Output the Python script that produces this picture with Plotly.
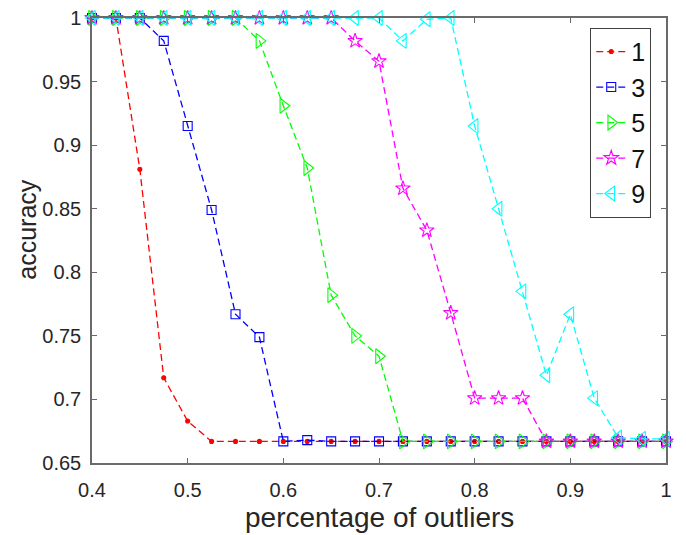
import plotly.graph_objects as go

# Fraction of outliers on the x axis
outlier_pct = [0.4, 0.425, 0.45, 0.475, 0.5, 0.525, 0.55, 0.575, 0.6, 0.625,
               0.65, 0.675, 0.7, 0.725, 0.75, 0.775, 0.8, 0.825, 0.85, 0.875,
               0.9, 0.925, 0.95, 0.975, 1.0]

# Accuracy for each setting (legend labels 1, 3, 5, 7, 9)
acc_1 = [1, 1, 0.881, 0.717, 0.683, 0.667, 0.667, 0.667, 0.667, 0.667,
         0.667, 0.667, 0.667, 0.667, 0.667, 0.667, 0.667, 0.667, 0.667, 0.667,
         0.667, 0.667, 0.667, 0.667, 0.667]
acc_3 = [1, 1, 1, 0.982, 0.915, 0.849, 0.767, 0.749, 0.667, 0.668,
         0.667, 0.667, 0.667, 0.667, 0.667, 0.667, 0.667, 0.667, 0.667, 0.667,
         0.667, 0.667, 0.667, 0.667, 0.667]
acc_5 = [1, 1, 1, 1, 1, 1, 1, 0.982, 0.931, 0.882,
         0.782, 0.750, 0.734, 0.667, 0.667, 0.667, 0.667, 0.667, 0.667, 0.667,
         0.667, 0.667, 0.667, 0.667, 0.667]
acc_7 = [1, 1, 1, 1, 1, 1, 1, 1, 1, 1,
         1, 0.982, 0.966, 0.866, 0.833, 0.768, 0.701, 0.701, 0.701, 0.667,
         0.667, 0.667, 0.667, 0.667, 0.667]
acc_9 = [1, 1, 1, 1, 1, 1, 1, 1, 1, 1,
         1, 1, 1, 0.982, 0.999, 1, 0.915, 0.850, 0.785, 0.719,
         0.767, 0.701, 0.670, 0.669, 0.669]

series_names = ["1", "3", "5", "7", "9"]
series_values = [acc_1, acc_3, acc_5, acc_7, acc_9]
series_colors = ["#ff0000", "#0000ff", "#00ff00", "#ff00ff", "#00ffff"]
series_symbols = ["circle", "square-open", "triangle-right-open",
                  "star-open", "triangle-left-open"]
series_sizes = [4, 9, 13, 11, 13]

x_ticks = [0.4, 0.5, 0.6, 0.7, 0.8, 0.9, 1]
x_tick_text = ["0.4", "0.5", "0.6", "0.7", "0.8", "0.9", "1"]
y_ticks = [0.65, 0.7, 0.75, 0.8, 0.85, 0.9, 0.95, 1]
y_tick_text = ["0.65", "0.7", "0.75", "0.8", "0.85", "0.9", "0.95", "1"]

FONT = "Liberation Sans, Arial, sans-serif"
AXIS_COLOR = "#6a6a6a"
TEXT_COLOR = "#262626"

fig = go.Figure()
for name, vals, color, sym, size in zip(series_names, series_values,
                                        series_colors, series_symbols,
                                        series_sizes):
    fig.add_trace(go.Scatter(
        x=outlier_pct, y=vals, name=name, mode="lines+markers",
        line=dict(color=color, width=1.3, dash="7px,4px"),
        marker=dict(symbol=sym, size=size, color=color,
                    line=dict(color=color, width=1.1)),
        cliponaxis=False,
    ))

axis_common = dict(
    showgrid=False, zeroline=False, showline=True, linecolor=AXIS_COLOR,
    linewidth=1.5, mirror="ticks", ticks="inside", ticklen=5,
    tickcolor=AXIS_COLOR, tickwidth=1, automargin=False,
    tickfont=dict(family=FONT, size=20, color=TEXT_COLOR),
)

fig.update_layout(
    width=686, height=535,
    margin=dict(l=91.5, r=20.3, t=18.3, b=71.7),
    paper_bgcolor="white", plot_bgcolor="white",
    font=dict(family=FONT, color=TEXT_COLOR),
    showlegend=True,
    legend=dict(
        x=0.868, y=0.978, xanchor="left", yanchor="top",
        bgcolor="white", bordercolor="#404040", borderwidth=1,
        font=dict(family=FONT, size=25, color="#111111"),
        itemwidth=30, tracegroupgap=0,
    ),
    xaxis=dict(
        range=[0.4, 1.0], tickvals=x_ticks, ticktext=x_tick_text,
        ticklabelstandoff=8,
        **axis_common,
    ),
    yaxis=dict(
        range=[0.65, 1.0], tickvals=y_ticks, ticktext=y_tick_text,
        ticklabelstandoff=5,
        **axis_common,
    ),
    annotations=[
        dict(text="percentage of outliers", xref="paper", yref="paper",
             x=0.5, y=-0.123, xanchor="center", yanchor="middle",
             showarrow=False,
             font=dict(family=FONT, size=28, color=TEXT_COLOR)),
        dict(text="accuracy", xref="paper", yref="paper",
             x=-0.1123, y=0.5254, xanchor="center", yanchor="middle",
             textangle=-90, showarrow=False,
             font=dict(family=FONT, size=25, color=TEXT_COLOR)),
    ],
)

fig.write_html("out.html")
